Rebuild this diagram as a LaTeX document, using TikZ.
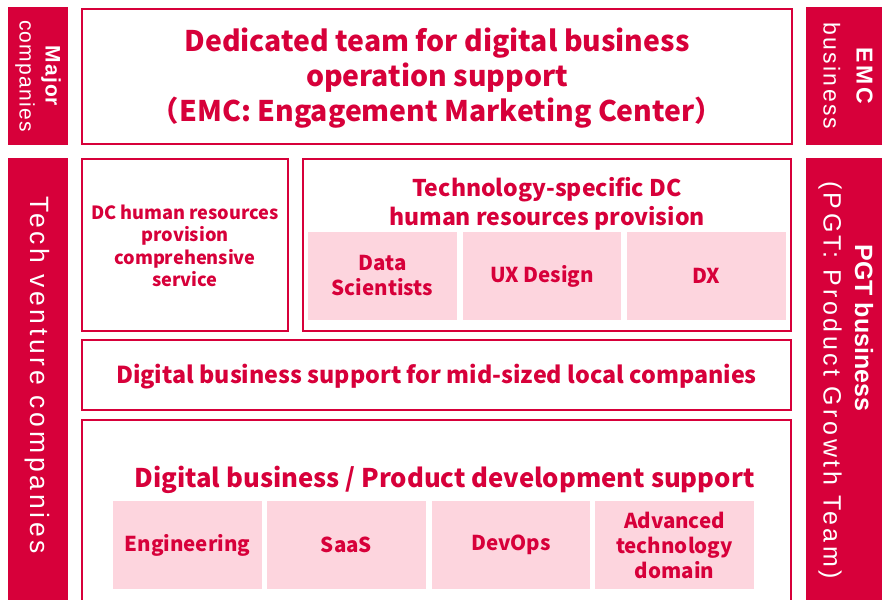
\documentclass[tikz,border=0pt]{standalone}
\usepackage{fontspec}
\setmainfont{Noto Sans CJK JP}
\newfontfamily\barfont{Liberation Sans}
\usetikzlibrary{positioning}
\definecolor{emcred}{HTML}{D7003A}
\definecolor{emcpink}{HTML}{FDD5DE}
\newcommand{\spaced}[1]{\addfontfeature{LetterSpace=#1}}

\begin{document}
\begin{tikzpicture}[x=1pt,y=-1pt]
		\tikzstyle{bar} = [fill=emcred, inner sep=0, rotate=-90]
		\tikzstyle{bartext} = [inner sep=0, rotate=-90, text=white, align=center]
		\tikzstyle{box} = [draw=emcred, line width=2.5, fill=white, inner sep=0, text=emcred, align=center, font=\bfseries]
		\tikzstyle{pinkbox} = [fill=emcpink, inner sep=0, text=emcred, align=center, font=\fontsize{20.5}{25}\selectfont\bfseries]
		\tikzstyle{invisible} = [inner sep=0, text=emcred, align=center]
		\clip (0,0) rectangle (882,599);
		% side bars
		\node [bar, minimum width=138, minimum height=60] (v1) at (38,76) {};
		\node [bartext, font=\barfont\fontsize{21}{26}\selectfont] (v2) at (v1) {{\bfseries\spaced{5}Major}\\{\spaced{6}companies}};
		\node [bar, minimum width=452, minimum height=60] (v3) at (38,384) {};
		\node [bartext, font=\barfont\fontsize{26.5}{30}\selectfont\spaced{14}] (v4) at (37,375) {Tech venture companies};
		\node [bar, minimum width=138, minimum height=84] (v5) at (848,76) {};
		\node [bartext, font=\barfont\fontsize{23}{33}\selectfont] (v6) at (848,76) {{\bfseries\spaced{11}EMC}\\{\spaced{10}business}};
		\node [bar, minimum width=452, minimum height=84] (v7) at (848,384) {};
		\node [bartext, font=\barfont\fontsize{25}{29}\selectfont\bfseries] (v8) at (864,328) {PGT business};
		\node [bartext, font=\barfont\fontsize{25}{29}\selectfont\spaced{14}] (v9) at (830,380) {(PGT: Product Growth Team)};
		% top
		\node [box, minimum width=710, minimum height=135] (v10) at (437,76.5) {};
		\node [invisible, font=\fontsize{28.4}{35}\selectfont\bfseries] (v11) at (437,78.5) {Dedicated team for digital business\\operation support\\（EMC: Engagement Marketing Center）};
		% second row
		\node [box, minimum width=206, minimum height=172] (v12) at (185,245) {};
		\node [invisible, font=\fontsize{18.2}{22.3}\selectfont\bfseries] (v13) at (185,246) {DC human resources\\provision\\comprehensive\\service};
		\node [box, minimum width=488, minimum height=172] (v14) at (547,245) {};
		\node [invisible, font=\fontsize{23}{29}\selectfont\bfseries] (v15) at (547,204) {Technology-specific DC\\human resources provision};
		\node [pinkbox, minimum width=149, minimum height=88] (v16) at (382.5,276) {Data\\Scientists};
		\node [pinkbox, minimum width=158, minimum height=88] (v17) at (542,276) {UX Design};
		\node [pinkbox, minimum width=159, minimum height=88] (v18) at (706.5,276) {DX};
		% middle
		\node [box, minimum width=709, minimum height=70] (v19) at (436.5,375) {};
		\node [invisible, font=\fontsize{23.3}{27}\selectfont\bfseries] (v20) at (436.5,377) {Digital business support for mid-sized local companies};
		% bottom
		\node [box, minimum width=709, minimum height=200] (v21) at (436.5,520) {};
		\node [invisible, font=\fontsize{25.7}{30}\selectfont\bfseries] (v22) at (444.5,479.5) {Digital business / Product development support};
		\node [pinkbox, minimum width=149, minimum height=88] (v23) at (187.5,545) {Engineering};
		\node [pinkbox, minimum width=159, minimum height=88] (v24) at (346.5,545) {SaaS};
		\node [pinkbox, minimum width=158, minimum height=88] (v25) at (511,545) {DevOps};
		\node [pinkbox, minimum width=159, minimum height=88] (v26) at (674.5,545) {Advanced\\technology\\domain};
\end{tikzpicture}
\end{document}
